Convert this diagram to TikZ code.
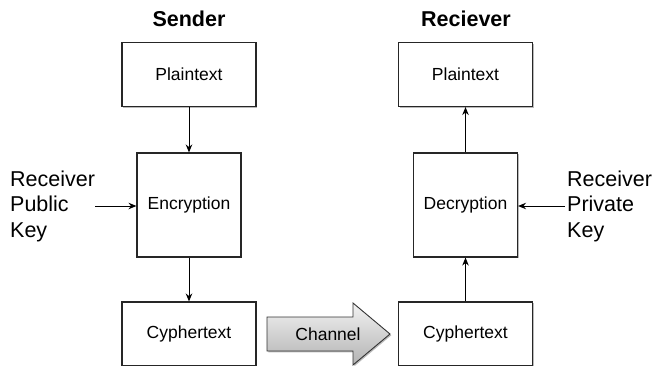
\documentclass[tikz,border=0pt]{standalone}
\usepackage{fontspec}
\setmainfont{Liberation Sans}
\usetikzlibrary{arrows.meta,shadows}
\begin{document}
\begin{tikzpicture}[x=1pt,y=-1pt,
  blockbox/.style={draw=black!85,line width=1.1pt,fill=white,
    drop shadow={shadow xshift=1.3pt,shadow yshift=-1.3pt,fill=black!45,opacity=0.6},
    font=\fontsize{17.5}{20}\selectfont,inner sep=0pt},
  wide/.style={blockbox,minimum width=134pt,minimum height=64pt},
  square/.style={blockbox,minimum width=104pt,minimum height=104pt},
  title/.style={font=\fontsize{21.5}{24}\selectfont\bfseries},
  keytext/.style={font=\fontsize{21.5}{25.5}\selectfont,align=left,inner sep=0pt},
  link/.style={line width=1pt,-{Stealth[length=8pt,width=6.5pt]}}]
\useasboundingbox (0,0) rectangle (653,365);
\clip (0,0) rectangle (653,365);

% column titles
\node[title] (tsend) at (189,19) {Sender};
\node[title] (trecv) at (466,19) {Reciever};

% sender side
\node[wide]   (sp) at (189,74.5) {Plaintext};
\node[square] (se) at (189,205)  {Encryption};
\node[wide]   (sc) at (189,334)  {Cyphertext};

% receiver side
\node[wide]   (rp) at (465.5,74.5) {Plaintext};
\node[square] (rd) at (465.5,205)  {Decryption};
\node[wide]   (rc) at (465.5,334)  {Cyphertext};

% key labels
\node[keytext,anchor=west] (pubkey) at (10,206) {Receiver\\Public\\Key};
\node[keytext,anchor=west] (privkey) at (567,206) {Receiver\\Private\\Key};
\coordinate (pubend) at (95,206);
\coordinate (privend) at (565,206);

% flow
\draw[link] (sp) -- (se);
\draw[link] (se) -- (sc);
\draw[link] (rc) -- (rd);
\draw[link] (rd) -- (rp);
\draw[link] (pubend) -- (se.west |- pubend);
\draw[link] (privend) -- (rd.east |- privend);

% channel arrow
\path[top color=black!5,bottom color=black!30,draw=black!80,line width=0.9pt,
      drop shadow={shadow xshift=1.3pt,shadow yshift=-1.3pt,fill=black!45,opacity=0.6}]
  (267,317) -- (353,317) -- (353,303) -- (390,334) -- (353,365) -- (353,351)
  -- (267,351) -- cycle;
\node[font=\fontsize{17.5}{20}\selectfont,inner sep=0pt] (chan) at (328,334) {Channel};
\end{tikzpicture}
\end{document}
